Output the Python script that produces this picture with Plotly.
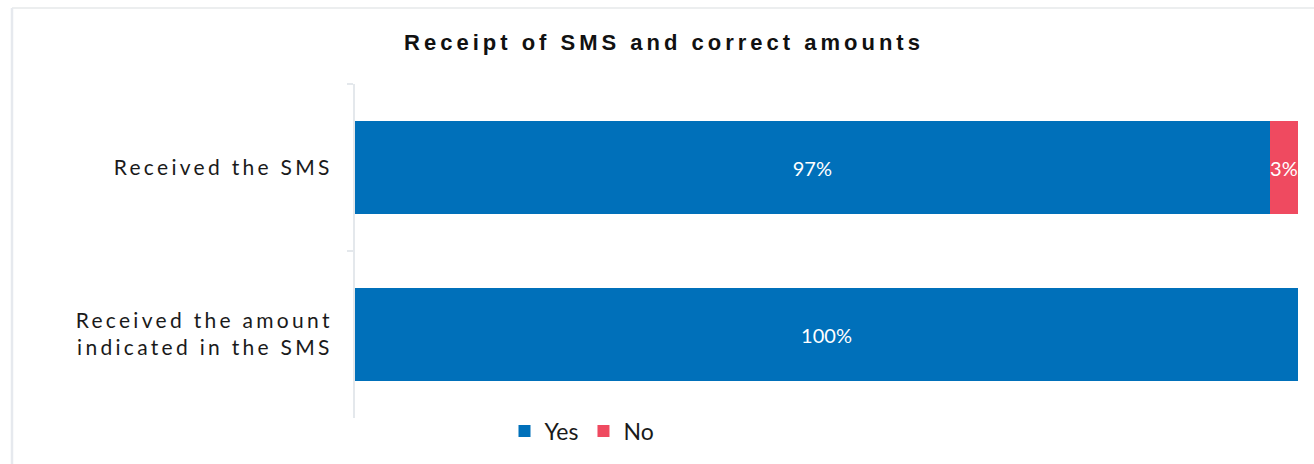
import plotly.graph_objects as go

# Survey items and response shares (percent)
categories = ["Received the SMS", "Received the amount<br>indicated in the SMS"]
yes_values = [97, 100]
no_values = [3, 0]
series_names = ["Yes", "No"]
series_colors = ["#0070BA", "#EF4A60"]

W, H = 1314, 464
L, R, T, B = 355, 16, 84, 46
plot_w = W - L - R
plot_h = H - T - B


def pct_labels(vals):
    return [f"{v}%" if v > 0 else "" for v in vals]


fig = go.Figure()
for name, vals, color in zip(series_names, [yes_values, no_values], series_colors):
    fig.add_trace(go.Bar(
        y=categories,
        x=vals,
        name=name,
        orientation="h",
        marker=dict(color=color, line=dict(width=0)),
        text=pct_labels(vals),
        textposition="inside",
        insidetextanchor="middle",
        textangle=0,
        constraintext="none",
        textfont=dict(family="Lato", size=20, color="white"),
        hoverinfo="skip",
        width=0.557,
    ))

fig.update_layout(
    width=W,
    height=H,
    barmode="stack",
    margin=dict(l=L, r=R, t=T, b=B),
    paper_bgcolor="white",
    plot_bgcolor="white",
    title=dict(
        text="<b>Receipt of SMS and correct amounts</b>",
        x=664 / W,
        xanchor="center",
        y=1 - 42 / H,
        yanchor="middle",
        font=dict(family="Liberation Sans", size=22, color="#111111"),
    ),
    xaxis=dict(
        range=[0, 100],
        visible=False,
        fixedrange=True,
    ),
    yaxis=dict(
        autorange="reversed",
        showline=True,
        linecolor="#E4E8EC",
        linewidth=2,
        ticks="outside",
        ticklen=6,
        tickcolor="#E4E8EC",
        tickwidth=2,
        tickson="boundaries",
        ticklabelstandoff=16,
        showgrid=False,
        tickfont=dict(family="Lato", size=21, color="#1A1A1A"),
        fixedrange=True,
    ),
    legend=dict(
        orientation="h",
        x=(582 - L) / plot_w,
        xanchor="center",
        y=(418 - 431) / plot_h,
        yanchor="middle",
        font=dict(family="Lato", size=23, color="#1A1A1A"),
        itemwidth=30,
        traceorder="normal",
    ),
    showlegend=True,
    shapes=[
        # light frame around the chart area
        dict(type="line", xref="paper", yref="paper",
             x0=(12 - L) / plot_w, x1=(1330 - L) / plot_w,
             y0=1 + (T - 8) / plot_h, y1=1 + (T - 8) / plot_h,
             line=dict(color="#E6E8EA", width=1.5)),
        dict(type="line", xref="paper", yref="paper",
             x0=(12 - L) / plot_w, x1=(12 - L) / plot_w,
             y0=1 + (T - 8) / plot_h, y1=-(B + 20) / plot_h,
             line=dict(color="#E6E9EE", width=2.5)),
    ],
)

letter_spacing = """
var gd = document.getElementById('{plot_id}');
function spaceText() {
  gd.querySelectorAll('.gtitle').forEach(function(t){ t.style.letterSpacing = '4px'; });
  gd.querySelectorAll('.ytick text').forEach(function(t){ t.style.letterSpacing = '3.3px'; });
}
spaceText();
gd.on('plotly_afterplot', spaceText);
"""

fig.write_html("out.html", post_script=letter_spacing, config={"displayModeBar": False})
